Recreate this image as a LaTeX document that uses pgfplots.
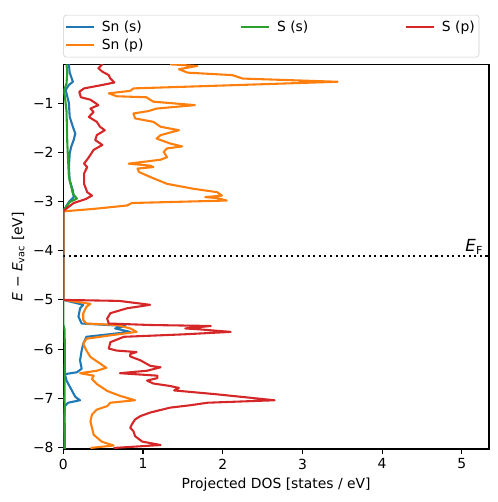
\documentclass[border=0pt]{standalone}
\usepackage{fontspec}
\setmainfont{DejaVu Sans}
\usepackage{pgfplots}
\pgfplotsset{compat=1.18}
\definecolor{tabblue}{HTML}{1F77B4}
\definecolor{taborange}{HTML}{FF7F0E}
\definecolor{tabgreen}{HTML}{2CA02C}
\definecolor{tabred}{HTML}{D62728}
\definecolor{legframe}{HTML}{CCCCCC}
\begin{document}
\begin{tikzpicture}
\useasboundingbox (-45.6pt,-38.2pt) rectangle (313.0pt,323.3pt);
\begin{axis}[
  scale only axis,
  width=306.5pt, height=277pt,
  xmin=0, xmax=5.34, ymin=-8.03, ymax=-0.21,
  xtick={0,1,2,3,4,5},
  ytick={-8,-7,-6,-5,-4,-3,-2,-1},
  yticklabels={−8,−7,−6,−5,−4,−3,−2,−1},
  tick align=outside,
  tick pos=left,
  major tick length=3.5pt,
  every tick/.style={black, line width=0.8pt},
  axis line style={line width=0.8pt},
  /pgf/number format/assume math mode=true,
  tick label style={font=\fontsize{10}{12}\selectfont},
  xlabel={Projected DOS [states / eV]},
  ylabel={\textit{E} − \textit{E}\textsubscript{vac} [eV]},
  xlabel style={at={(axis description cs:0.5,0)}, anchor=base, yshift=-28.3pt},
  ylabel style={at={(axis description cs:-0.106,0.5)}, anchor=center},
  label style={font=\fontsize{10}{12}\selectfont},
  legend columns=3,
  legend cell align=left,
  legend style={at={(axis description cs:0,1)}, anchor=south west, yshift=5pt,
    draw=legframe, rounded corners=2pt, fill=white, inner xsep=1pt, inner ysep=2pt,
    font=\fontsize{10}{12}\selectfont,
    nodes={inner sep=2pt},
    /tikz/every odd column/.append style={column sep=3pt},
    /tikz/every even column/.append style={column sep=67.7pt}},
  legend image code/.code={\draw[#1] (0pt,0pt) -- (20pt,0pt);},
  every axis plot/.append style={line width=1.5pt, line join=round},
]
\addlegendimage{tabblue, line width=1.5pt}
\addlegendentry{Sn (s)}
\addlegendimage{tabgreen, line width=1.5pt}
\addlegendentry{S (s)}
\addlegendimage{tabred, line width=1.5pt}
\addlegendentry{S (p)}
\addlegendimage{taborange, line width=1.5pt}
\addlegendentry{Sn (p)}

% Sn (s)
\addplot[tabblue, forget plot] coordinates {
(0.07,-0.21) (0.08,-0.38) (0.12,-0.565) (0.07,-0.63) (0.03,-0.73) (0.07,-1.0)
(0.08,-1.28) (0.12,-1.48) (0.15,-1.62) (0.13,-1.75) (0.10,-1.88) (0.08,-2.02)
(0.07,-2.30) (0.08,-2.57) (0.12,-2.78) (0.13,-2.91) (0.07,-3.01) (0,-3.19)
(0,-5.0) (0.25,-5.10) (0.21,-5.17) (0.19,-5.34) (0.23,-5.48) (0.78,-5.53)
(0.65,-5.58) (0.84,-5.65) (0.29,-5.75) (0.25,-5.89) (0.23,-6.03) (0.21,-6.23)
(0.23,-6.40) (0.17,-6.47) (0.02,-6.51) (0.04,-6.64) (0.11,-6.85) (0.15,-6.97)
(0.21,-7.04) (0.06,-7.09) (0.02,-7.16) (0.01,-7.5) (0.01,-8.03)
};
% Sn (p)
\addplot[taborange, forget plot] coordinates {
(1.34,-0.21) (1.68,-0.244) (1.45,-0.31) (1.56,-0.38) (2.12,-0.43) (2.25,-0.50)
(3.44,-0.565) (2.22,-0.63) (0.88,-0.70) (0.84,-0.75) (0.57,-0.80) (0.67,-0.86)
(1.04,-0.88) (1.13,-0.97) (1.65,-1.04) (1.17,-1.11) (1.07,-1.16) (0.88,-1.21)
(0.90,-1.31) (1.13,-1.38) (1.22,-1.48) (1.45,-1.55) (1.22,-1.65) (1.17,-1.72)
(1.34,-1.82) (1.49,-1.88) (1.30,-1.92) (1.26,-1.99) (1.30,-2.10) (1.22,-2.15)
(0.82,-2.23) (1.09,-2.27) (1.13,-2.30) (0.93,-2.33) (0.95,-2.40) (1.09,-2.50)
(1.30,-2.64) (1.63,-2.74) (1.93,-2.81) (1.99,-2.88) (1.78,-2.91) (1.93,-2.93)
(2.05,-2.98) (0.86,-3.03) (0.80,-3.08) (0.38,-3.15) (0,-3.20)
(0,-5.0) (0.34,-5.08) (0.29,-5.14) (0.25,-5.27) (0.25,-5.41) (0.29,-5.48)
(0.67,-5.51) (0.84,-5.58) (0.92,-5.65) (0.59,-5.72) (0.29,-5.79) (0.25,-5.89)
(0.29,-6.03) (0.34,-6.16) (0.44,-6.27) (0.54,-6.38) (0.42,-6.44) (0.21,-6.49)
(0.38,-6.54) (0.36,-6.61) (0.42,-6.71) (0.55,-6.85) (0.71,-6.95) (0.90,-7.04)
(0.59,-7.09) (0.55,-7.16) (0.42,-7.23) (0.36,-7.33) (0.34,-7.47) (0.36,-7.60)
(0.38,-7.74) (0.48,-7.88) (0.63,-7.96) (0.34,-8.01)
};
% S (s)
\addplot[tabgreen, forget plot] coordinates {
(0.04,-0.21) (0.05,-0.38) (0.04,-0.6) (0.01,-0.74) (0.04,-1.15) (0.05,-1.82)
(0.07,-2.50) (0.12,-2.84) (0.17,-2.94) (0.08,-3.01) (0,-3.19) (0,-5.5)
(0.015,-5.6) (0.02,-6.0) (0.015,-7.0) (0.02,-8.03)
};
% S (p)
\addplot[tabred, forget plot] coordinates {
(0.49,-0.21) (0.44,-0.29) (0.49,-0.36) (0.57,-0.43) (0.59,-0.50) (0.64,-0.58)
(0.49,-0.63) (0.26,-0.70) (0.20,-0.77) (0.22,-0.88) (0.34,-0.93) (0.44,-1.04)
(0.34,-1.11) (0.38,-1.18) (0.32,-1.28) (0.42,-1.38) (0.46,-1.48) (0.52,-1.55)
(0.42,-1.65) (0.40,-1.75) (0.49,-1.85) (0.38,-1.95) (0.32,-2.10) (0.26,-2.23)
(0.30,-2.30) (0.26,-2.43) (0.26,-2.64) (0.30,-2.81) (0.36,-2.88) (0.28,-2.95)
(0.13,-3.03) (0.05,-3.13) (0,-3.19)
(0,-5.0) (0.7,-5.02) (1.09,-5.10) (0.80,-5.17) (0.59,-5.27) (0.55,-5.38) (0.57,-5.48)
(1.09,-5.51) (1.85,-5.53) (1.53,-5.58) (1.72,-5.60) (2.10,-5.65) (1.51,-5.70)
(0.76,-5.75) (0.59,-5.86) (0.57,-5.99) (0.67,-6.03) (0.92,-6.06) (0.84,-6.10)
(0.84,-6.15) (0.97,-6.23) (1.09,-6.34) (1.22,-6.37) (1.05,-6.44) (0.71,-6.49)
(1.18,-6.54) (1.18,-6.59) (1.05,-6.64) (1.13,-6.70) (1.34,-6.75) (1.45,-6.79)
(1.39,-6.84) (1.93,-6.92) (2.35,-6.99) (2.65,-7.04) (1.81,-7.09) (1.60,-7.14)
(1.34,-7.19) (1.09,-7.29) (0.97,-7.36) (0.90,-7.43) (0.86,-7.53) (0.84,-7.60)
(0.88,-7.67) (0.90,-7.77) (0.99,-7.88) (1.22,-7.95) (0.63,-8.01)
};
% Fermi level
\addplot[black, line width=1.5pt, dash pattern=on 1.5pt off 2.5pt, forget plot] coordinates {(0,-4.1) (5.34,-4.1)};
\node[anchor=base east, font=\fontsize{12}{14}\selectfont, inner sep=0pt] at (axis cs:5.27,-4.02) {\textit{E}\textsubscript{F}};
\end{axis}
\end{tikzpicture}
\end{document}
